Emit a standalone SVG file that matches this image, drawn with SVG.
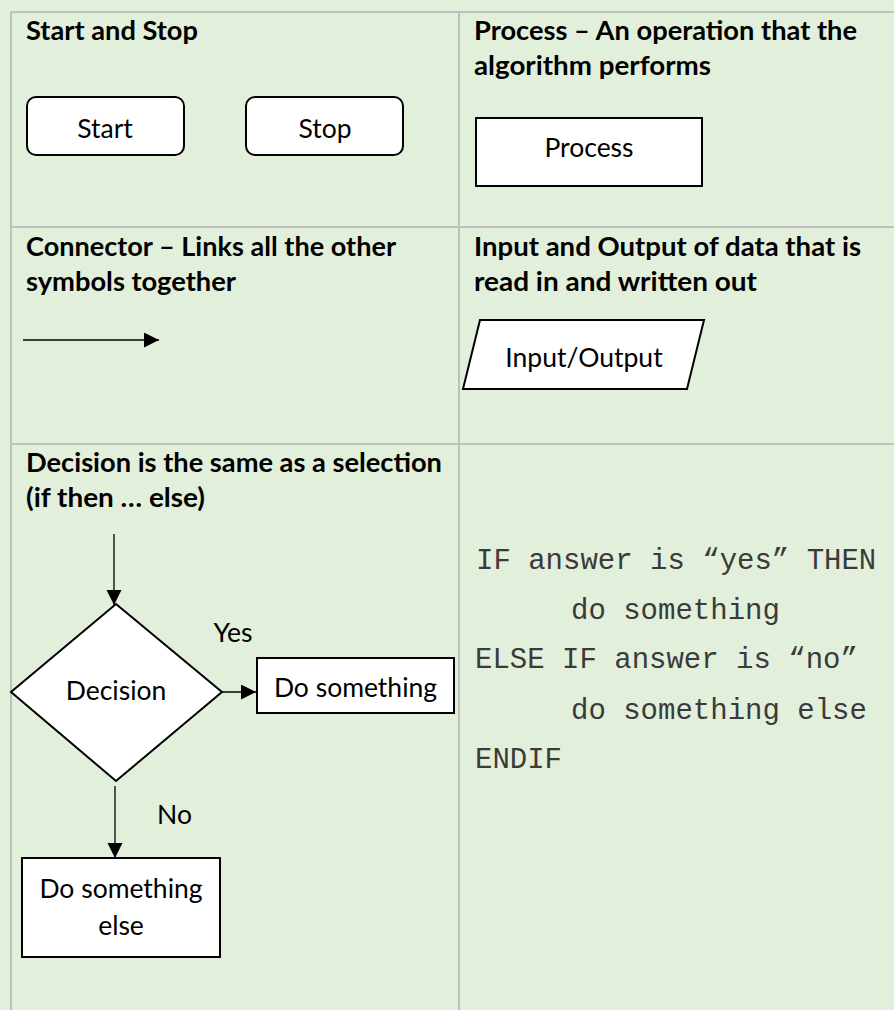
<svg xmlns="http://www.w3.org/2000/svg" width="894" height="1010" viewBox="0 0 894 1010">
<defs>
<style>
.grid{stroke:#BFBFBF;stroke-width:2;fill:none}
.h{font-family:Lato,"Open Sans","Liberation Sans",sans-serif;font-weight:bold;font-size:26px;fill:#000}
.tc{font-family:Lato,"Open Sans","Liberation Sans",sans-serif;font-size:26.5px;fill:#000;text-anchor:middle}
.code{font-family:"Liberation Mono","Courier New",monospace;font-size:29px;fill:#3a3a3a}
.shape{fill:#fff;stroke:#000;stroke-width:2}
.conn{stroke:#000;stroke-width:1.3;fill:none}
</style>
<marker id="arr" markerUnits="userSpaceOnUse" markerWidth="16" markerHeight="16" refX="15" refY="7.5" orient="auto">
<path d="M0,0 L15,7.5 L0,15 z" fill="#000"/>
</marker>
</defs>
<rect x="0" y="0" width="894" height="1010" fill="#E2EFDA"/>
<g id="grid" class="grid">
<line x1="11" y1="12" x2="894" y2="12"/>
<line x1="11" y1="227" x2="894" y2="227"/>
<line x1="11" y1="444" x2="894" y2="444"/>
<line x1="11" y1="12" x2="11" y2="1010"/>
<line x1="459" y1="12" x2="459" y2="1010"/>
</g>
<g id="headings">
<text class="h" x="26" y="40" textLength="172" lengthAdjust="spacingAndGlyphs">Start and Stop</text>
<text class="h" x="474" y="40" textLength="383" lengthAdjust="spacingAndGlyphs">Process – An operation that the</text>
<text class="h" x="474" y="75" textLength="237" lengthAdjust="spacingAndGlyphs">algorithm performs</text>
<text class="h" x="26" y="256" textLength="370" lengthAdjust="spacingAndGlyphs">Connector – Links all the other</text>
<text class="h" x="26" y="291" textLength="210" lengthAdjust="spacingAndGlyphs">symbols together</text>
<text class="h" x="474" y="256" textLength="387" lengthAdjust="spacingAndGlyphs">Input and Output of data that is</text>
<text class="h" x="474" y="291" textLength="283" lengthAdjust="spacingAndGlyphs">read in and written out</text>
<text class="h" x="26" y="472" textLength="416" lengthAdjust="spacingAndGlyphs">Decision is the same as a selection</text>
<text class="h" x="26" y="507" textLength="179" lengthAdjust="spacingAndGlyphs">(if then … else)</text>
</g>
<g id="start">
<rect class="shape" x="27" y="97" width="157" height="58" rx="9"/>
<text class="tc" x="105" y="138">Start</text>
</g>
<g id="stop">
<rect class="shape" x="246" y="97" width="157" height="58" rx="9"/>
<text class="tc" x="325" y="138">Stop</text>
</g>
<g id="process">
<rect class="shape" x="476" y="118" width="226" height="68"/>
<text class="tc" x="589" y="157">Process</text>
</g>
<g id="io">
<polygon class="shape" points="480,320 704,320 687,389 463,389"/>
<text class="tc" x="584" y="367">Input/Output</text>
</g>
<g id="decision">
<polygon class="shape" points="116,604 222,692 116,781 11,692"/>
<text class="tc" x="116" y="700">Decision</text>
</g>
<g id="do-something">
<rect class="shape" x="257" y="658" width="197" height="55"/>
<text class="tc" x="355.5" y="697">Do something</text>
</g>
<g id="do-something-else">
<rect class="shape" x="22" y="858" width="198" height="99"/>
<text class="tc" x="121" y="898">Do something</text>
<text class="tc" x="121" y="935">else</text>
</g>
<g id="connectors">
<line class="conn" x1="23" y1="340" x2="159" y2="340" marker-end="url(#arr)"/>
<line class="conn" x1="114" y1="534" x2="114" y2="605" marker-end="url(#arr)"/>
<line class="conn" x1="222" y1="692" x2="256" y2="692" marker-end="url(#arr)"/>
<line class="conn" x1="115" y1="786" x2="115" y2="858" marker-end="url(#arr)"/>
<text class="tc" x="233" y="642">Yes</text>
<text class="tc" x="174.5" y="824">No</text>
</g>
<g id="pseudocode">
<text class="code" x="476" y="569">IF answer is “yes” THEN</text>
<text class="code" x="571" y="619">do something</text>
<text class="code" x="475" y="668">ELSE IF answer is “no”</text>
<text class="code" x="571" y="719">do something else</text>
<text class="code" x="475" y="768">ENDIF</text>
</g>
</svg>
